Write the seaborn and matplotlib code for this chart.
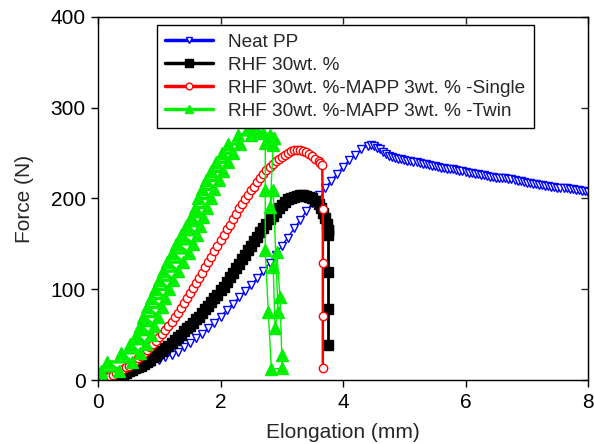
import matplotlib
matplotlib.use("Agg")
import matplotlib.pyplot as plt
import pandas as pd
import seaborn as sns

# Neat PP
pp_x = [0.0, 0.1, 0.2, 0.3, 0.4, 0.5, 0.6, 0.7, 0.8, 0.9, 1.0, 1.1, 1.2, 1.3, 1.4, 1.5,
        1.6, 1.7, 1.8, 1.9, 2.0, 2.1, 2.2, 2.3, 2.4, 2.5, 2.6, 2.7, 2.8, 2.9, 3.0, 3.1,
        3.2, 3.3, 3.4, 3.5, 3.6, 3.7, 3.8, 3.9, 4.0, 4.1, 4.2, 4.3, 4.4, 4.45, 4.5, 4.55,
        4.6, 4.65, 4.7, 4.75, 4.8, 4.85, 4.9, 4.95, 5.0, 5.05, 5.1, 5.15, 5.2, 5.25, 5.3,
        5.35, 5.4, 5.45, 5.5, 5.55, 5.6, 5.65, 5.7, 5.75, 5.8, 5.85, 5.9, 5.95, 6.0, 6.05,
        6.1, 6.15, 6.2, 6.25, 6.3, 6.35, 6.4, 6.45, 6.5, 6.55, 6.6, 6.65, 6.7, 6.75, 6.8,
        6.85, 6.9, 6.95, 7.0, 7.05, 7.1, 7.15, 7.2, 7.25, 7.3, 7.35, 7.4, 7.45, 7.5, 7.55,
        7.6, 7.65, 7.7, 7.75, 7.8, 7.85, 7.9, 7.95, 8.0]
pp_f = [0, 2, 4, 6, 8, 10, 12, 15, 17, 20, 22, 25, 28, 31, 36, 41,
        46, 51, 57, 63, 70, 77, 84, 91, 98, 105, 112, 120, 129, 138, 148, 157,
        167, 176, 186, 195, 204, 211, 219, 227, 235, 242, 248, 254, 258, 259, 258, 256,
        254, 251, 249, 247, 246, 245, 244, 243, 242, 241, 241, 240, 240, 239, 238,
        238, 237, 236, 236, 235, 234, 234, 233, 232, 232, 231, 230, 230, 229, 228,
        228, 227, 227, 226, 226, 225, 224, 224, 223, 223, 222, 222, 221, 221, 220,
        219, 219, 218, 217, 217, 216, 216, 215, 215, 214, 214, 213, 213, 212, 212,
        211, 211, 210, 210, 209, 209, 208, 208, 207]

# RHF 30wt. %
rhf_x = [0.0, 0.05, 0.1, 0.15, 0.2, 0.25, 0.3, 0.35, 0.4, 0.45, 0.5, 0.55, 0.6, 0.65,
         0.7, 0.75, 0.8, 0.85, 0.9, 0.95, 1.0, 1.05, 1.1, 1.15, 1.2, 1.25, 1.3, 1.35,
         1.4, 1.45, 1.5, 1.55, 1.6, 1.65, 1.7, 1.75, 1.8, 1.85, 1.9, 1.95, 2.0, 2.05,
         2.1, 2.15, 2.2, 2.25, 2.3, 2.35, 2.4, 2.45, 2.5, 2.55, 2.6, 2.65, 2.7, 2.75,
         2.8, 2.85, 2.9, 2.95, 3.0, 3.05, 3.1, 3.15, 3.2, 3.25, 3.3, 3.35, 3.4, 3.45,
         3.5, 3.55, 3.6, 3.64, 3.68, 3.71, 3.74, 3.76, 3.76, 3.76, 3.76, 3.76]
rhf_f = [0, 0, 1, 2, 3, 4, 5, 6, 7, 8, 10, 11, 13, 14,
         16, 18, 20, 22, 25, 27, 30, 32, 35, 38, 41, 44, 47, 50,
         54, 57, 60, 63, 67, 70, 74, 78, 82, 86, 90, 94, 99, 103,
         108, 113, 118, 123, 128, 133, 138, 143, 148, 153, 158, 163, 168, 172,
         177, 181, 185, 189, 193, 196, 199, 201, 202, 203, 204, 204, 203, 202,
         200, 197, 194, 190, 184, 178, 172, 165, 160, 119, 78, 39]

# RHF 30wt. %-MAPP 3wt. % -Single
single_x = [0.0, 0.05, 0.1, 0.15, 0.2, 0.25, 0.3, 0.35, 0.4, 0.45, 0.5, 0.55, 0.6, 0.65,
            0.7, 0.75, 0.8, 0.85, 0.9, 0.95, 1.0, 1.05, 1.1, 1.15, 1.2, 1.25, 1.3, 1.35,
            1.4, 1.45, 1.5, 1.55, 1.6, 1.65, 1.7, 1.75, 1.8, 1.85, 1.9, 1.95, 2.0, 2.05,
            2.1, 2.15, 2.2, 2.25, 2.3, 2.35, 2.4, 2.45, 2.5, 2.55, 2.6, 2.65, 2.7, 2.75,
            2.8, 2.85, 2.9, 2.95, 3.0, 3.05, 3.1, 3.15, 3.2, 3.25, 3.3, 3.35, 3.4, 3.45,
            3.5, 3.55, 3.6, 3.63, 3.66, 3.67, 3.67, 3.67, 3.67]
single_f = [0, 1, 2, 3, 5, 6, 8, 10, 12, 14, 16, 18, 21, 24,
            27, 30, 33, 36, 40, 43, 47, 51, 55, 59, 64, 69, 74, 79,
            85, 90, 96, 101, 107, 112, 118, 124, 130, 136, 142, 148, 154, 160,
            166, 171, 177, 183, 189, 194, 199, 204, 209, 213, 218, 222, 227, 231,
            235, 238, 241, 244, 246, 248, 250, 252, 253, 253, 253, 252, 251, 249,
            247, 244, 241, 239, 237, 188, 129, 71, 13]

# RHF 30wt. %-MAPP 3wt. % -Twin (band edges read in pairs, then the break)
twin_x = [0.00, 0.10, 0.05, 0.35, 0.15, 0.55, 0.38, 0.68, 0.52, 0.78, 0.62, 0.86,
          0.68, 0.92, 0.74, 0.98, 0.80, 1.04, 0.86, 1.10, 0.93, 1.16, 0.99, 1.23,
          1.06, 1.30, 1.13, 1.39, 1.20, 1.48, 1.28, 1.55, 1.36, 1.62, 1.44, 1.67,
          1.51, 1.72, 1.58, 1.78, 1.64, 1.84, 1.70, 1.90, 1.77, 1.97, 1.84, 2.04,
          1.93, 2.12, 2.02, 2.20, 2.13, 2.32, 2.28, 2.50, 2.45, 2.60, 2.70, 2.80,
          2.88, 2.73, 2.73, 2.73, 2.78, 2.83, 3.00, 3.00, 2.97, 2.92, 2.86, 2.89,
          2.94, 2.86, 2.81, 2.86]
twin_f = [0, 0, 10, 10, 20, 20, 30, 30, 40, 40, 50, 50,
          60, 60, 70, 70, 80, 80, 90, 90, 100, 100, 110, 110,
          120, 120, 130, 130, 140, 140, 150, 150, 160, 160, 170, 170,
          180, 180, 190, 190, 200, 200, 210, 210, 220, 220, 230, 230,
          240, 240, 250, 250, 260, 260, 270, 270, 278, 274, 272, 270,
          267, 261, 209, 143, 75, 12, 13, 28, 92, 141, 125, 57,
          75, 209, 191, 259]

# index where the sample breaks (curve drawn as a band before, thin line after)
rhf_break = 77
twin_break = 60

sns.set_style("ticks")
plt.rcParams["font.family"] = ["Liberation Sans", "DejaVu Sans"]

fig, ax = plt.subplots(figsize=(5.94, 4.44), dpi=100)
fig.subplots_adjust(left=0.165, right=0.99, top=0.962, bottom=0.144)

green = "#00f000"


def draw(xs, fs, col, mk, face, ms, lw, label=None):
    df = pd.DataFrame({"x": xs, "f": fs})
    sns.lineplot(data=df, x="x", y="f", sort=False, estimator=None, ax=ax,
                 color=col, lw=lw, marker=mk, markersize=ms, markerfacecolor=face,
                 markeredgecolor=col, markeredgewidth=1.0, label=label)


draw(pp_x, pp_f, "blue", "v", "white", 6, 1.0, "Neat PP")
draw(rhf_x[:rhf_break + 1], rhf_f[:rhf_break + 1], "black", "s", "black", 6.5, 5.0,
     "RHF 30wt. %")
draw(rhf_x[rhf_break:], rhf_f[rhf_break:], "black", "s", "black", 6.5, 2.0)
draw(single_x, single_f, "red", "o", "white", 6, 1.8, "RHF 30wt. %-MAPP 3wt. % -Single")
draw(twin_x[:twin_break + 1], twin_f[:twin_break + 1], green, "^", green, 8, 2.5,
     "RHF 30wt. %-MAPP 3wt. % -Twin")
draw(twin_x[twin_break:], twin_f[twin_break:], green, "^", green, 8, 1.0)

ax.set_xlim(0, 8)
ax.set_ylim(0, 400)
ax.set_xticks([0, 2, 4, 6, 8])
ax.set_yticks([0, 100, 200, 300, 400])
ax.set_xlabel("Elongation (mm)", fontsize=15, labelpad=8)
ax.set_ylabel("Force (N)", fontsize=15, labelpad=12)
ax.tick_params(direction="out", length=5, width=1, labelsize=15, colors="black", pad=4)
for s in ax.spines.values():
    s.set_visible(True)
    s.set_linewidth(1)
    s.set_color("black")

# mirrored ticks pointing into the plot on top and right
top = ax.secondary_xaxis("top")
top.set_xticks([0, 2, 4, 6, 8])
top.tick_params(direction="in", length=5, width=1, labeltop=False)
right = ax.secondary_yaxis("right")
right.set_yticks([0, 100, 200, 300, 400])
right.tick_params(direction="in", length=5, width=1, labelright=False)

leg = ax.legend(loc="upper left", bbox_to_anchor=(0.12, 0.978), fontsize=13.7,
                frameon=True, fancybox=False, framealpha=1, edgecolor="black",
                handlelength=2.5, handletextpad=0.8, labelspacing=0.3,
                borderpad=0.45, borderaxespad=0, markerscale=0.8)
leg.get_frame().set_linewidth(1)
for h in leg.get_lines():
    h.set_linewidth(2.5)

fig.savefig("out.png", dpi=100)
